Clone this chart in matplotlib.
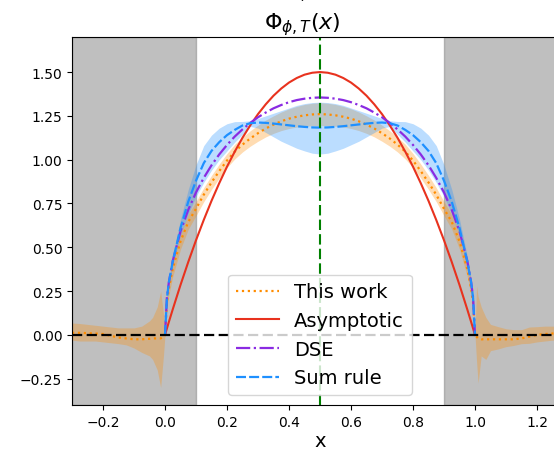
import numpy as np
import matplotlib
matplotlib.use('Agg')
import matplotlib.pyplot as plt

# grid for the curves inside [0, 1] (finer near the end points)
x_in = np.concatenate([[0.0, 0.00625, 0.0125], np.linspace(0.025, 0.975, 39),
                       [0.9875, 0.99375, 1.0]])

# Asymptotic
asym = [0.000, 0.037, 0.074,
        0.146, 0.285, 0.416, 0.540, 0.656, 0.765, 0.866, 0.960, 1.046,
        1.125, 1.196, 1.260, 1.316, 1.365, 1.406, 1.440, 1.466, 1.485, 1.496,
        1.500,
        1.496, 1.485, 1.466, 1.440, 1.406, 1.365, 1.316, 1.260, 1.196, 1.125,
        1.046, 0.960, 0.866, 0.765, 0.656, 0.540, 0.416, 0.285, 0.146,
        0.074, 0.037, 0.000]

# DSE
dse = [0.000, 0.214, 0.301,
       0.423, 0.591, 0.714, 0.813, 0.896, 0.968, 1.030, 1.084, 1.132,
       1.173, 1.210, 1.242, 1.269, 1.293, 1.312, 1.328, 1.340, 1.348, 1.353,
       1.355,
       1.353, 1.348, 1.340, 1.328, 1.312, 1.293, 1.269, 1.242, 1.210, 1.173,
       1.132, 1.084, 1.030, 0.968, 0.896, 0.813, 0.714, 0.591, 0.423,
       0.301, 0.214, 0.000]

# Sum rule (central, lower, upper)
sum_rule = [0.000, 0.210, 0.300,
            0.420, 0.610, 0.760, 0.880, 0.980, 1.050, 1.100, 1.140, 1.170,
            1.195, 1.208, 1.212, 1.210, 1.206, 1.201, 1.196, 1.191, 1.187, 1.184,
            1.183,
            1.184, 1.187, 1.191, 1.196, 1.201, 1.206, 1.210, 1.212, 1.208, 1.195,
            1.170, 1.140, 1.100, 1.050, 0.980, 0.880, 0.760, 0.610, 0.420,
            0.300, 0.210, 0.000]
sum_lo = [0.000, 0.200, 0.285,
          0.400, 0.570, 0.690, 0.790, 0.870, 0.940, 1.000, 1.050, 1.100,
          1.145, 1.190, 1.180, 1.155, 1.130, 1.105, 1.085, 1.065, 1.050, 1.037,
          1.032,
          1.037, 1.050, 1.065, 1.085, 1.105, 1.130, 1.155, 1.180, 1.190, 1.145,
          1.100, 1.050, 1.000, 0.940, 0.870, 0.790, 0.690, 0.570, 0.400,
          0.285, 0.200, 0.000]
sum_hi = [0.000, 0.225, 0.320,
          0.450, 0.660, 0.830, 0.970, 1.080, 1.140, 1.180, 1.205, 1.217,
          1.218, 1.222, 1.235, 1.250, 1.265, 1.280, 1.295, 1.310, 1.320, 1.326,
          1.328,
          1.326, 1.320, 1.310, 1.295, 1.280, 1.265, 1.250, 1.235, 1.222, 1.218,
          1.217, 1.205, 1.180, 1.140, 1.080, 0.970, 0.830, 0.660, 0.450,
          0.320, 0.225, 0.000]

# This work: inside [0, 1]
tw_in = [0.000, 0.186, 0.266,
         0.378, 0.534, 0.645, 0.720, 0.800, 0.870, 0.935, 0.995, 1.046,
         1.086, 1.121, 1.151, 1.178, 1.200, 1.219, 1.234, 1.245, 1.253, 1.258,
         1.260,
         1.258, 1.253, 1.245, 1.234, 1.219, 1.200, 1.178, 1.151, 1.121, 1.086,
         1.046, 0.995, 0.935, 0.870, 0.800, 0.720, 0.645, 0.534, 0.378,
         0.266, 0.186, 0.000]
tw_err = [0.000, 0.030, 0.040,
          0.045, 0.045, 0.042, 0.040, 0.040, 0.040, 0.040, 0.040, 0.042,
          0.042, 0.044, 0.046, 0.048, 0.050, 0.053, 0.056, 0.059, 0.062, 0.064,
          0.065,
          0.064, 0.062, 0.059, 0.056, 0.053, 0.050, 0.048, 0.046, 0.044, 0.042,
          0.042, 0.040, 0.040, 0.040, 0.040, 0.040, 0.042, 0.045, 0.045,
          0.040, 0.030, 0.000]

# This work: outside [0, 1]
x_left = [-0.30, -0.275, -0.25, -0.225, -0.20, -0.175, -0.15, -0.125, -0.10,
          -0.075, -0.05, -0.04, -0.025, -0.014, -0.005]
tw_left = [0.012, 0.012, 0.010, 0.008, 0.005, -0.005, -0.015, -0.020, -0.025,
           -0.025, -0.022, -0.020, -0.020, -0.020, -0.010]
tw_left_lo = [-0.030, -0.035, -0.035, -0.035, -0.040, -0.045, -0.050, -0.057, -0.075,
              -0.100, -0.120, -0.140, -0.200, -0.300, -0.120]
tw_left_hi = [0.068, 0.065, 0.060, 0.055, 0.050, 0.045, 0.040, 0.040, 0.040,
              0.050, 0.080, 0.100, 0.160, 0.250, 0.120]

x_right = [1.005, 1.01, 1.02, 1.035, 1.05, 1.075, 1.10, 1.125, 1.15, 1.175,
           1.20, 1.225, 1.25, 1.275, 1.30]
tw_right = [-0.010, -0.020, -0.025, -0.025, -0.025, -0.025, -0.025, -0.025, -0.020,
            -0.010, 0.000, 0.005, 0.008, 0.010, 0.010]
tw_right_lo = [-0.150, -0.275, -0.120, -0.140, -0.090, -0.080, -0.067, -0.060, -0.050,
               -0.048, -0.040, -0.035, -0.030, -0.030, -0.030]
tw_right_hi = [0.280, 0.220, 0.160, 0.100, 0.060, 0.047, 0.035, 0.030, 0.030,
               0.045, 0.047, 0.050, 0.050, 0.050, 0.050]


def main():
    tw_x = np.concatenate([x_left, x_in, x_right])
    tw = np.concatenate([tw_left, tw_in, tw_right])
    tw_lo = np.concatenate([tw_left_lo, np.array(tw_in) - np.array(tw_err), tw_right_lo])
    tw_hi = np.concatenate([tw_left_hi, np.array(tw_in) + np.array(tw_err), tw_right_hi])

    fig = plt.figure(figsize=(5.54, 4.56), dpi=100)
    # axes runs past the right edge of the figure (cropped like the reference)
    ax = fig.add_axes([72 / 554, 50 / 456, 496 / 554, 368 / 456])

    ax.axvspan(-0.3, 0.1, color='gray', alpha=0.5)
    ax.axvspan(0.9, 1.3, color='gray', alpha=0.5)

    ax.fill_between(tw_x, tw_lo, tw_hi, color='darkorange', alpha=0.3, linewidth=0)
    ax.fill_between(x_in, sum_lo, sum_hi, color='dodgerblue', alpha=0.3, linewidth=0)

    ax.plot(tw_x, tw, ':', color='darkorange', lw=1.6, label='This work')
    ax.plot(x_in, asym, '-', color='#e8321e', lw=1.5, label='Asymptotic')
    ax.plot(x_in, dse, '-.', color='blueviolet', lw=1.6, label='DSE')
    ax.plot(x_in, sum_rule, color='dodgerblue', lw=1.6, ls=(0, (4.5, 1.4)),
            label='Sum rule')

    ax.axhline(0, color='k', ls=(0, (4.6, 2.0)), lw=1.6)
    ax.axvline(0.5, color='green', ls=(0, (5.0, 2.0)), lw=1.5)

    ax.set_xlim(-0.3, 1.3)
    ax.set_ylim(-0.4, 1.7)
    ax.set_xticks([-0.2, 0.0, 0.2, 0.4, 0.6, 0.8, 1.0, 1.2])
    ax.set_yticks([-0.25, 0.0, 0.25, 0.5, 0.75, 1.0, 1.25, 1.5])
    ax.set_yticklabels(['\u22120.25', '0.00', '0.25', '0.50', '0.75', '1.00', '1.25', '1.50'])
    ax.tick_params(labelsize=10)
    ax.set_xlabel('x', fontsize=14, labelpad=2)
    ax.set_title(r'$\Phi_{\phi,T}(x)$', fontsize=16, x=(302 - 72) / 496, pad=5)
    # small mark above the title (cropped in the original)
    fig.text(302 / 554, 1.0, '\u02c7', ha='center', va='top', fontsize=7)

    ax.legend(loc='lower center', fontsize=14, handlelength=2.2)

    fig.savefig('out.png', dpi=100)
    plt.close(fig)


if __name__ == "__main__":
    main()
